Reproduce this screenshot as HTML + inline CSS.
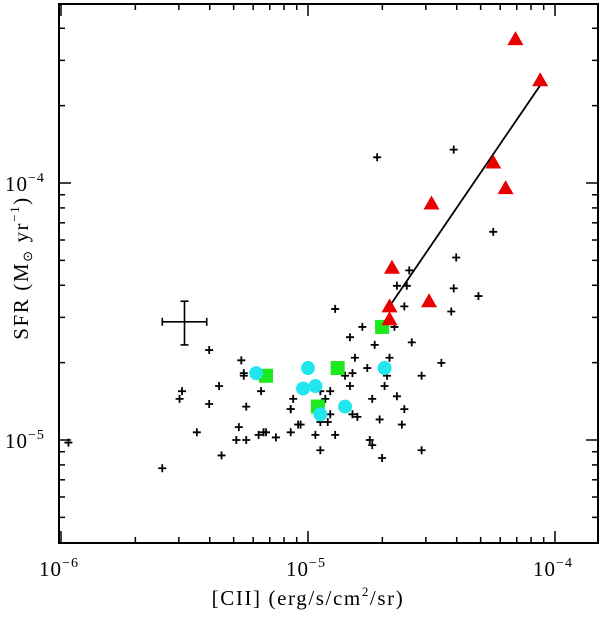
<!DOCTYPE html>
<html><head><meta charset="utf-8"><style>
html,body{margin:0;padding:0;background:#fff;width:600px;height:620px;overflow:hidden}
svg text{font-family:"Liberation Serif",serif;fill:#000}
</style></head><body>
<svg id="chart" width="600" height="620" viewBox="0 0 600 620" xmlns="http://www.w3.org/2000/svg">
<g id="axes"></g>
<g id="marks"></g>
<text x="308" y="605" font-size="21" letter-spacing="1.6" text-anchor="middle">[CII] (erg/s/cm<tspan dy="-9" font-size="13">2</tspan><tspan dy="9">/sr)</tspan></text>
<text transform="translate(28,268) rotate(-90)" font-size="21" letter-spacing="1.6" text-anchor="middle">SFR (M<tspan font-size="13" dy="4">⊙</tspan><tspan dy="-4"> yr</tspan><tspan dy="-9" font-size="13">−1</tspan><tspan dy="9">)</tspan></text>
</svg>
<script>
// data (log10 values)
const crossLogX=[-5.97,-5.59,-5.45,-5.40,-5.40,-5.35,-5.36,-5.52,-5.51,-5.28,-5.29,-5.25,-5.27,-5.26,-5.26,-5.25,-5.19,-5.20,-5.18,-5.17,-5.13,-5.07,-5.07,-5.06,-5.07,-5.04,-5.03,-4.97,-4.95,-4.95,-4.93,-4.95,-4.92,-4.91,-4.91,-4.89,-4.89,-4.85,-4.83,-4.83,-4.82,-4.82,-4.80,-4.81,-4.78,-4.76,-4.75,-4.74,-4.74,-4.73,-4.72,-4.71,-4.70,-4.69,-4.68,-4.67,-4.65,-4.64,-4.64,-4.61,-4.62,-4.61,-4.60,-4.59,-4.58,-4.54,-4.54,-4.46,-4.42,-4.41,-4.41,-4.40,-4.31,-4.25];
const crossLogY=[-5.01,-5.11,-4.97,-4.65,-4.86,-5.06,-4.79,-4.84,-4.81,-4.95,-5.00,-5.00,-4.69,-4.74,-4.75,-4.87,-4.81,-4.98,-4.97,-4.97,-4.99,-4.97,-4.88,-4.84,-4.88,-4.94,-4.94,-4.98,-5.04,-4.81,-4.84,-4.93,-4.93,-4.81,-4.90,-4.98,-4.49,-4.75,-4.79,-4.60,-4.74,-4.90,-4.91,-4.68,-4.56,-4.72,-5.00,-5.02,-4.84,-4.63,-3.90,-4.92,-5.07,-4.79,-4.75,-4.68,-4.56,-4.83,-4.40,-4.88,-4.94,-4.48,-4.40,-4.34,-4.62,-4.75,-5.04,-4.70,-4.50,-4.41,-3.87,-4.29,-4.44,-4.19];
const triLogX=[-4.16,-4.06,-4.25,-4.20,-4.50,-4.66,-4.51,-4.67,-4.67];
const triLogY=[-3.44,-3.60,-3.92,-4.02,-4.08,-4.33,-4.46,-4.48,-4.53];
const sqLogX=[-4.70,-4.88,-4.96,-5.17];
const sqLogY=[-4.56,-4.72,-4.87,-4.75];
const circLogX=[-5.21,-5.00,-4.97,-5.02,-4.95,-4.85,-4.69];
const circLogY=[-4.74,-4.72,-4.79,-4.80,-4.90,-4.87,-4.72];
const fitLogX=[-4.67,-4.06];
const fitLogY=[-4.48,-3.62];
const errCenter=[-5.50,-4.54];
const errX=[-5.59,-5.41];
const errY=[-4.63,-4.46];
const xMajorExp=[-6,-5,-4];
const yMajorExp=[-5,-4];

const L=59,R=598,T=4,B=543;
function sx(l){return 61+(l+6)*247;}
function sy(l){return 183-(l+4)*257;}
const NS="http://www.w3.org/2000/svg";
const axes=document.getElementById('axes'),marks=document.getElementById('marks');
function mk(tag,attrs,parent){const e=document.createElementNS(NS,tag);for(const k in attrs)e.setAttribute(k,attrs[k]);parent.appendChild(e);return e;}

const frame=mk('rect',{x:L,y:T,width:R-L,height:B-T,fill:'none',stroke:'#000','stroke-width':2},axes);



for(let e=-7;e<=-4;e++){for(let m=1;m<10;m++){const lx=e+Math.log10(m);const x=sx(lx);if(x<L+1||x>R-1)continue;const len=m===1?12:6;
const t1=mk('line',{x1:x,y1:B,x2:x,y2:B-len,stroke:'#000','stroke-width':1.5},axes);


const t2=mk('line',{x1:x,y1:T,x2:x,y2:T+len,stroke:'#000','stroke-width':1.5},axes);

}}
for(let e=-6;e<=-3;e++){for(let m=1;m<10;m++){const ly=e+Math.log10(m);const y=sy(ly);if(y<T+1||y>B-1)continue;const len=m===1?12:6;
const t1=mk('line',{x1:L,y1:y,x2:L+len,y2:y,stroke:'#000','stroke-width':1.5},axes);


const t2=mk('line',{x1:R,y1:y,x2:R-len,y2:y,stroke:'#000','stroke-width':1.5},axes);

}}
xMajorExp.forEach(e=>{const t=mk('text',{x:sx(e)-2,y:576,'font-size':21,'letter-spacing':1,'text-anchor':'middle'},axes);


t.innerHTML='10<tspan dy="-9" font-size="14">'+String(e).replace('-','−')+'</tspan>';});
yMajorExp.forEach(e=>{const t=mk('text',{x:5,y:sy(e)+8,'font-size':21,'letter-spacing':1,'text-anchor':'start'},axes);


t.innerHTML='10<tspan dy="-9" font-size="14">'+String(e).replace('-','−')+'</tspan>';});

const eb=mk('g',{stroke:'#000','stroke-width':1.6},marks);


const cx0=sx(errCenter[0]),cy0=sy(errCenter[1]);
mk('line',{x1:sx(errX[0]),y1:cy0,x2:sx(errX[1]),y2:cy0},eb);
mk('line',{x1:cx0,y1:sy(errY[0]),x2:cx0,y2:sy(errY[1])},eb);
mk('line',{x1:sx(errX[0]),y1:cy0-4,x2:sx(errX[0]),y2:cy0+4},eb);
mk('line',{x1:sx(errX[1]),y1:cy0-4,x2:sx(errX[1]),y2:cy0+4},eb);
mk('line',{x1:cx0-4,y1:sy(errY[0]),x2:cx0+4,y2:sy(errY[0])},eb);
mk('line',{x1:cx0-4,y1:sy(errY[1]),x2:cx0+4,y2:sy(errY[1])},eb);

crossLogX.forEach((lx,i)=>{const x=sx(lx),y=sy(crossLogY[i]);
const p=mk('path',{d:`M${x-4},${y}H${x+4}M${x},${y-4}V${y+4}`,stroke:'#000','stroke-width':1.8},marks);

});
sqLogX.forEach((lx,i)=>{const x=sx(lx),y=sy(sqLogY[i]);
const r=mk('rect',{x:x-7,y:y-7,width:14,height:14,fill:'#1ee81e'},marks);

});
circLogX.forEach((lx,i)=>{const c=mk('circle',{cx:sx(lx),cy:sy(circLogY[i]),r:7,fill:'#22e6ee'},marks);

});
const fl=mk('line',{x1:sx(fitLogX[0]),y1:sy(fitLogY[0]),x2:sx(fitLogX[1]),y2:sy(fitLogY[1]),stroke:'#000','stroke-width':1.8},marks);


triLogX.forEach((lx,i)=>{const x=sx(lx),y=sy(triLogY[i]);
const t=mk('polygon',{points:`${x},${y-8} ${x-8},${y+6} ${x+8},${y+6}`,fill:'#e80000'},marks);

});
</script>
</body></html>
